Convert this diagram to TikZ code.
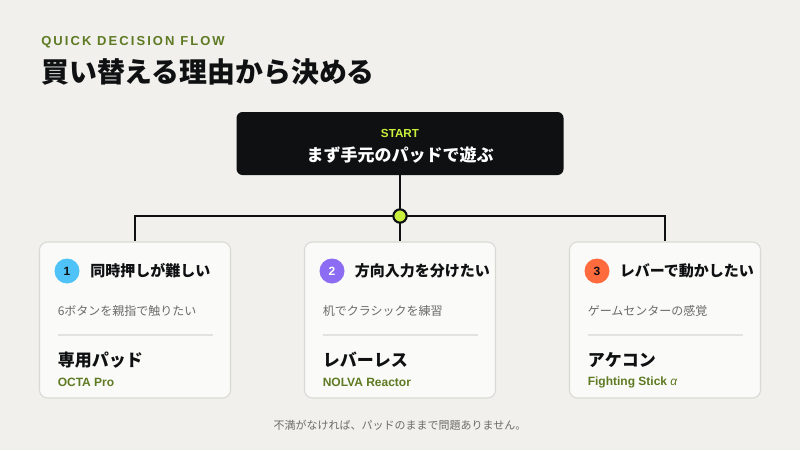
\documentclass[tikz,border=0pt]{standalone}
\usepackage{fontspec}
\setmainfont{Noto Sans CJK JP}
\newfontfamily\latin{Liberation Sans}
\usetikzlibrary{calc, positioning}
\usepackage{xcolor}

\definecolor{paper}{HTML}{F1F0EC}
\definecolor{ink}{HTML}{0F1012}
\definecolor{olive}{HTML}{5E7A22}
\definecolor{lime}{HTML}{C8F03C}
\definecolor{cardfill}{HTML}{FAFAF8}
\definecolor{cardedge}{HTML}{D9D9D4}
\definecolor{muted}{HTML}{6B6B67}
\definecolor{rule}{HTML}{E2E2DE}
\definecolor{badgeA}{HTML}{4FC3F7}
\definecolor{badgeB}{HTML}{8B6CF2}
\definecolor{badgeC}{HTML}{FF6B3D}

\begin{document}
\begin{tikzpicture}[x=0.75pt, y=-0.75pt]
			\tikzstyle{card} = [draw=cardedge, line width=0.8pt, fill=cardfill, rounded corners=6pt, minimum width=143.25pt, minimum height=117pt]
			\tikzstyle{badge} = [circle, minimum size=18.75pt, inner sep=0pt, font=\latin\bfseries\fontsize{9}{9}\selectfont]
			\tikzstyle{head} = [anchor=west, inner sep=0pt, font=\bfseries\fontsize{11.25}{12}\selectfont, text=ink]
			\tikzstyle{sub} = [anchor=west, inner sep=0pt, font=\fontsize{9}{10}\selectfont, text=muted]
			\tikzstyle{pick} = [anchor=west, inner sep=0pt, font=\bfseries\fontsize{12.75}{14}\selectfont, text=ink]
			\tikzstyle{model} = [anchor=west, inner sep=0pt, font=\latin\bfseries\fontsize{9}{10}\selectfont, text=olive]
			\tikzstyle{link} = [line width=2pt, draw=ink]
			\tikzstyle{divider} = [line width=0.8pt, draw=rule]

			\fill[paper] (0,0) rectangle (800,450);
			\useasboundingbox (0,0) rectangle (800,450);

			% heading
			\node[anchor=west, inner sep=0pt, text=olive, font=\latin\bfseries\fontsize{9.75}{10}\selectfont\addfontfeature{LetterSpace=16}] at (41,42) (kicker) {QUICK DECISION FLOW};
			\node[anchor=west, inner sep=0pt, text=ink, font=\bfseries\fontsize{20.9}{22}\selectfont] at (41,72) (title) {買い替える理由から決める};

			% start box
			\node[fill=ink, rounded corners=4.5pt, minimum width=245.25pt, minimum height=47.25pt] at (400,143.5) (start) {};
			\node[inner sep=0pt, text=lime, font=\latin\bfseries\fontsize{8.75}{9}\selectfont] at (400,133) (startlbl) {START};
			\node[inner sep=0pt, text=white, font=\bfseries\fontsize{12.75}{14}\selectfont] at (400,155) (starttxt) {まず手元のパッドで遊ぶ};

			% cards
			\node[card] at (135,320) (card1) {};
			\node[card] at (400,320) (card2) {};
			\node[card] at (665,320) (card3) {};

			% connectors
			\coordinate (hubpt) at (400,216);
			\draw [link] (start) -- (hubpt);
			\draw [link] (hubpt) -| (card1);
			\draw [link] (hubpt) -| (card3);
			\draw [link] (hubpt) -- (card2);
			\node[circle, fill=lime, draw=ink, line width=1.6pt, minimum size=10pt, inner sep=0pt] at (hubpt) (hub) {};

			% card 1
			\node[badge, fill=badgeA, text=ink] at (67,271) (b1) {1};
			\node[head] at (90,271) (h1) {同時押しが難しい};
			\node[sub] at (57.5,311) (s1) {6ボタンを親指で触りたい};
			\draw [divider] (57.5,335) -- (212.5,335);
			\node[pick] at (57.5,360) (p1) {専用パッド};
			\node[model] at (57.5,382) (m1) {OCTA Pro};

			% card 2
			\node[badge, fill=badgeB, text=white] at (332,271) (b2) {2};
			\node[head] at (354.5,271) (h2) {方向入力を分けたい};
			\node[sub] at (322.5,311) (s2) {机でクラシックを練習};
			\draw [divider] (322.5,335) -- (477.5,335);
			\node[pick] at (322.5,360) (p2) {レバーレス};
			\node[model] at (322.5,382) (m2) {NOLVA Reactor};

			% card 3
			\node[badge, fill=badgeC, text=ink] at (597,271) (b3) {3};
			\node[head] at (619.5,271) (h3) {レバーで動かしたい};
			\node[sub] at (587.5,311) (s3) {ゲームセンターの感覚};
			\draw [divider] (587.5,335) -- (742.5,335);
			\node[pick] at (587.5,360) (p3) {アケコン};
			\node[model] at (587.5,382) (m3) {Fighting Stick {\mdseries\itshape α}};

			% footer
			\node[inner sep=0pt, text=muted, font=\fontsize{8.25}{9}\selectfont] at (400,425) (note) {不満がなければ、パッドのままで問題ありません。};
		\end{tikzpicture}
\end{document}
